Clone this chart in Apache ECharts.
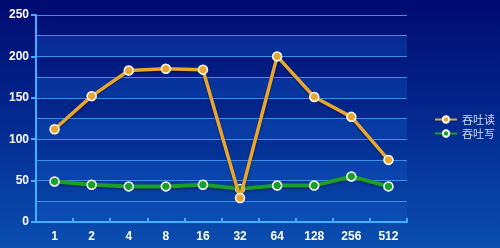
<!DOCTYPE html>
<html><head><meta charset="utf-8">
<script src="https://cdn.jsdelivr.net/npm/echarts@6/dist/echarts.min.js"></script>
<style>html,body{margin:0;padding:0;}#c{width:500px;height:248px;background:linear-gradient(to bottom,#000a70 0%,#032a90 50%,#0a4fb0 100%);}</style>
</head><body><div id="c"></div>
<script>
const categories = ['1','2','4','8','16','32','64','128','256','512'];
const readValues = [112, 152, 183, 185, 184, 29, 200, 151, 127, 75];
const writeValues = [49, 45, 43, 43, 45, 40, 44, 44, 55, 43];
const seriesNames = ['吞吐读', '吞吐写'];

const chart = echarts.init(document.getElementById('c'), null, {renderer:'canvas'});
chart.setOption({
  backgroundColor: 'transparent',
  animation: false,
  grid: {left: 36, right: 93, top: 15, bottom: 26},
  legend: {
    orient: 'vertical', left: 429, top: 109,
    itemWidth: 22, itemHeight: 8, itemGap: 3,
    textStyle: {color: '#d0d8ec', fontSize: 11, fontFamily: 'Noto Sans CJK SC'},
    data: seriesNames
  },
  xAxis: {
    type: 'category', data: categories, boundaryGap: true,
    axisLine: {lineStyle: {color: '#3fb0ff', width: 2}},
    axisTick: {show: true, inside: true, length: 4, lineStyle: {color: '#3fb0ff', width: 2}},
    axisLabel: {color: '#ffffff', fontWeight: 'bold', fontSize: 12, fontFamily: 'Liberation Sans', margin: 9},
    splitLine: {show: false}
  },
  yAxis: [{
    type: 'value', min: 0, max: 250, interval: 25,
    axisLine: {show: true, lineStyle: {color: '#3fb0ff', width: 2}},
    axisTick: {show: false},
    axisLabel: {color: '#ffffff', fontWeight: 'bold', fontSize: 12, fontFamily: 'Liberation Sans', margin: 7,
      formatter: v => (v % 50 === 0 ? String(v) : '')},
    splitLine: {lineStyle: {color: '#3d8fe6', width: 1}},
    splitArea: {show: true, areaStyle: {color: ['rgba(20,90,200,0.35)', 'rgba(0,0,0,0)']}}
  }, {
    type: 'value', min: 0, max: 250, interval: 50, position: 'left',
    axisLine: {show: false},
    axisTick: {show: true, length: 5, lineStyle: {color: '#3fb0ff', width: 2}},
    axisLabel: {show: false},
    splitLine: {show: false}
  }],
  series: [
    {
      name: seriesNames[0], type: 'line', data: readValues,
      symbol: 'circle', symbolSize: 9,
      lineStyle: {color: '#e8a630', width: 3.5, shadowColor: 'rgba(0,0,0,0.5)', shadowBlur: 2, shadowOffsetY: 1},
      itemStyle: {color: '#e8a630', borderColor: '#ffffff', borderWidth: 1.5},
      z: 3
    },
    {
      name: seriesNames[1], type: 'line', data: writeValues,
      symbol: 'circle', symbolSize: 9,
      lineStyle: {color: '#1aa028', width: 4, shadowColor: 'rgba(0,0,0,0.5)', shadowBlur: 2, shadowOffsetY: 1},
      itemStyle: {color: '#1aa028', borderColor: '#ffffff', borderWidth: 1.5},
      z: 2
    }
  ]
});
</script></body></html>
